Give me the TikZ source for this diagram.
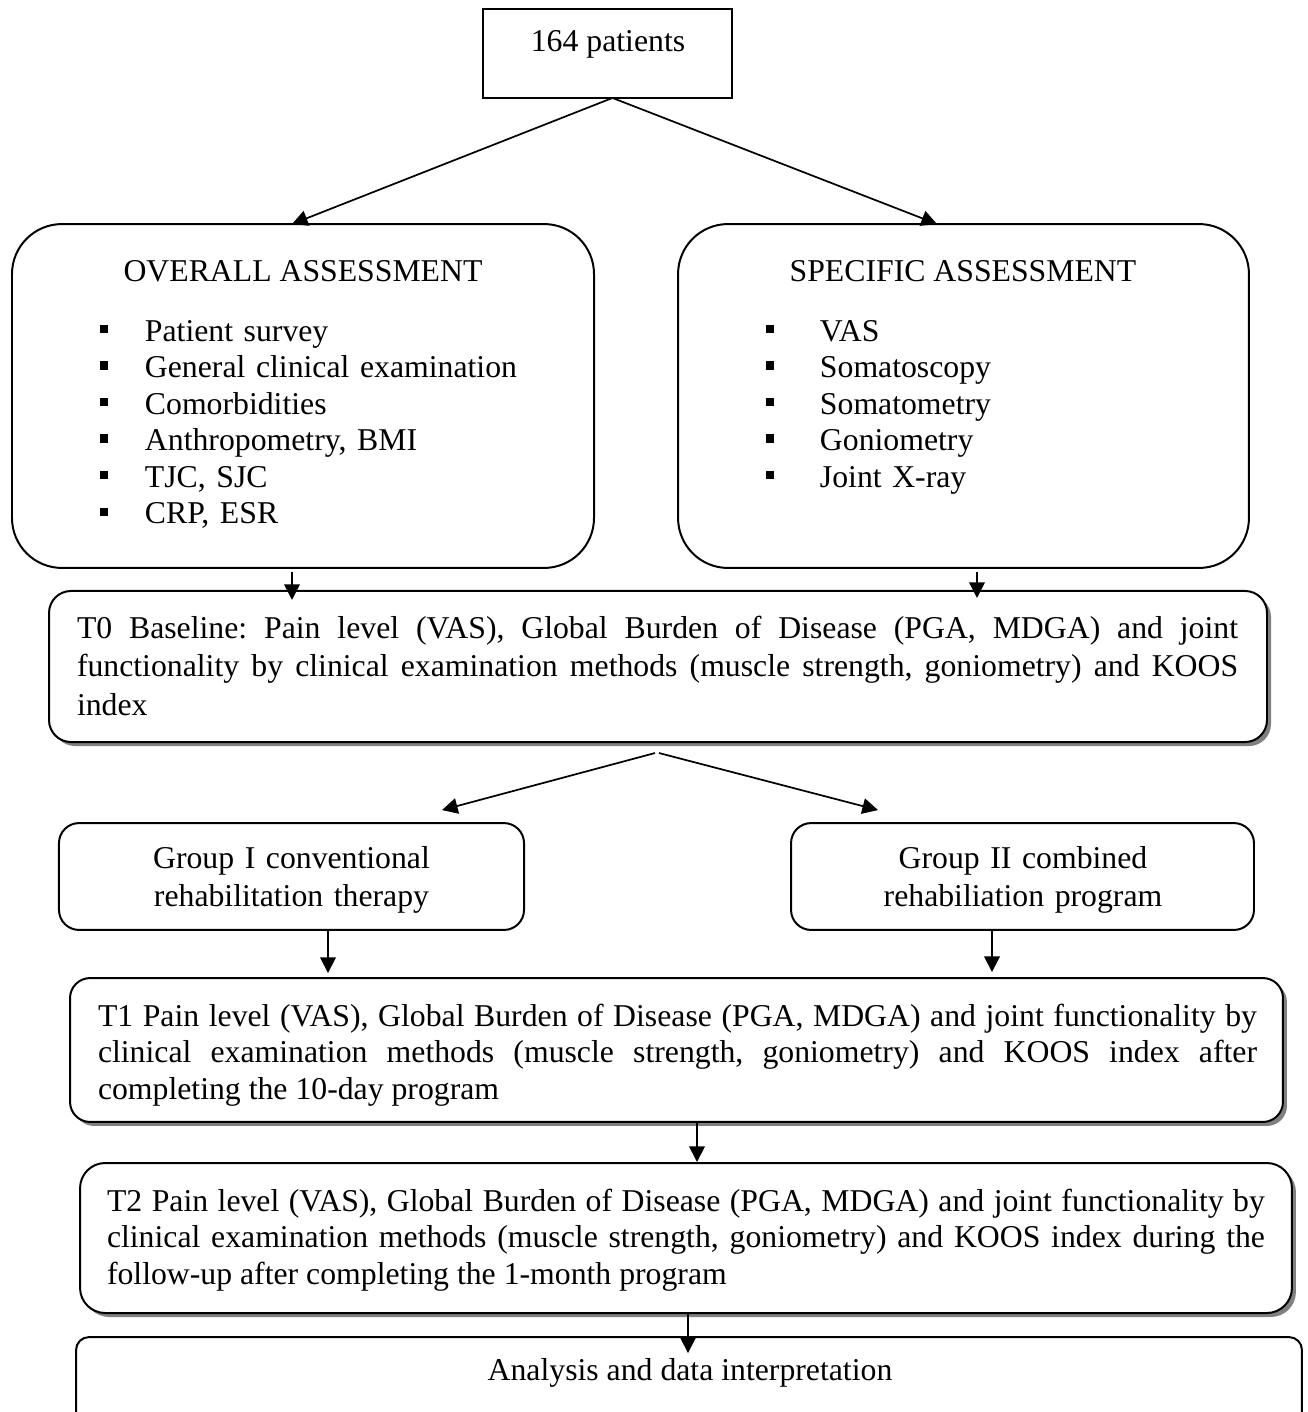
\documentclass[tikz,border=0pt]{standalone}
\usepackage{fontspec}
\setmainfont{Liberation Serif}
\usetikzlibrary{arrows.meta,calc,shadows}
\newdimen\pxu \pxu=0.378pt
\newcommand\sqb{\rule[3pt]{3.2pt}{3.2pt}}
\frenchspacing
\tikzset{
  boxbase/.style={draw, line width=0.75pt, fill=white, inner sep=0pt, outer sep=0pt},
  shadowed/.style={drop shadow={shadow xshift=4*\pxu, shadow yshift=-4*\pxu, fill=black!50, opacity=1}},
  txt/.style={inner sep=0pt, outer sep=0pt, font=\fontsize{12}{13.83}\selectfont,
    execute at begin node={\frenchspacing\tolerance=9999\hyphenpenalty=10000}},
  arr/.style={line width=0.65pt, -{Triangle[length=5.9pt, width=5.9pt]}}
}
\begin{document}
\begin{tikzpicture}[x=0.378pt,y=-0.378pt]
\clip (0,0) rectangle (1308,1412);
\fill[white] (0,0) rectangle (1308,1412);

% top box
\node[boxbase, minimum width=94.1pt, minimum height=33.6pt] (pat) at (607.5,53.5) {};
\node[txt, anchor=base] (pattxt) at (608,51) {164 patients};

% overall assessment
\node[boxbase, rounded corners=18.9pt, minimum width=220.0pt, minimum height=130.0pt] (ov) at (303,396) {};
\node[txt, anchor=base] (ovt) at (303,281) {OVERALL ASSESSMENT};
\node[txt, anchor=base west, text width=174pt, align=left] (ovl) at (100,341)
  {\makebox[17pt][l]{\sqb}Patient survey\\
   \makebox[17pt][l]{\sqb}General clinical examination\\
   \makebox[17pt][l]{\sqb}Comorbidities\\
   \makebox[17pt][l]{\sqb}Anthropometry, BMI\\
   \makebox[17pt][l]{\sqb}TJC, SJC\\
   \makebox[17pt][l]{\sqb}CRP, ESR};

% specific assessment
\node[boxbase, rounded corners=18.9pt, minimum width=215.8pt, minimum height=130.0pt] (sp) at (963.5,396) {};
\node[txt, anchor=base] (spt) at (963,281) {SPECIFIC ASSESSMENT};
\node[txt, anchor=base west, text width=170pt, align=left] (spl) at (766,341)
  {\makebox[20.4pt][l]{\sqb}VAS\\
   \makebox[20.4pt][l]{\sqb}Somatoscopy\\
   \makebox[20.4pt][l]{\sqb}Somatometry\\
   \makebox[20.4pt][l]{\sqb}Goniometry\\
   \makebox[20.4pt][l]{\sqb}Joint X-ray};

% T0
\node[boxbase, shadowed, rounded corners=8.3pt, minimum width=460.4pt, minimum height=57.1pt] (t0) at (658,666.5) {};
\node[txt, anchor=base west, text width=438.9pt, align=justify, font=\fontsize{12}{14.6}\selectfont] (t0txt) at (77,638)
  {T0 Baseline: Pain level (VAS), Global Burden of Disease (PGA, MDGA) and joint\linebreak
   functionality by clinical examination methods (muscle strength, goniometry) and KOOS\linebreak
   index};

% groups
\node[boxbase, rounded corners=7.6pt, minimum width=175.8pt, minimum height=40.4pt] (g1) at (291.5,876.5) {};
\node[txt, anchor=base, text width=166pt, align=center, font=\fontsize{12}{14.6}\selectfont] (g1txt) at (291.5,868)
  {Group I conventional\\ rehabilitation therapy};
\node[boxbase, rounded corners=7.6pt, minimum width=175.0pt, minimum height=40.4pt] (g2) at (1022.5,876.5) {};
\node[txt, anchor=base, text width=166pt, align=center, font=\fontsize{12}{14.6}\selectfont] (g2txt) at (1023,868)
  {Group II combined\\ rehabiliation program};

% T1
\node[boxbase, shadowed, rounded corners=7.6pt, minimum width=458.5pt, minimum height=54.4pt] (t1) at (676.5,1050) {};
\node[txt, anchor=base west, text width=438.1pt, align=justify, font=\fontsize{12}{13.8}\selectfont] (t1txt) at (98,1026)
  {T1 Pain level (VAS), Global Burden of Disease (PGA, MDGA) and joint functionality by\linebreak
   clinical examination methods (muscle strength, goniometry) and KOOS index after\linebreak
   completing the 10-day program};

% T2
\node[boxbase, shadowed, rounded corners=9.5pt, minimum width=458.1pt, minimum height=56.7pt] (t2) at (686,1238) {};
\node[txt, anchor=base west, text width=437.7pt, align=justify, font=\fontsize{12}{13.8}\selectfont] (t2txt) at (107,1211)
  {T2 Pain level (VAS), Global Burden of Disease (PGA, MDGA) and joint functionality by\linebreak
   clinical examination methods (muscle strength, goniometry) and KOOS index during the\linebreak
   follow-up after completing the 1-month program};

% analysis
\node[boxbase, rounded corners=4.9pt, minimum width=463.4pt, minimum height=38.9pt] (an) at (689,1388.5) {};
\node[txt, anchor=base] (antxt) at (690,1380) {Analysis and data interpretation};

% connectors
\coordinate (patout) at ($(pat.south)+(5,0)$);
\draw[arr] (patout) -- ($(ov.north)+(-11,0)$);
\draw[arr] (patout) -- ($(sp.north)+(-26.5,0)$);

\coordinate (ovo) at ($(ov.south)+(-11,4)$);
\draw[arr] (ovo) -- ($(ovo |- t0.north)+(0,9)$);
\coordinate (spo) at ($(sp.south)+(13.5,4)$);
\draw[arr] (spo) -- ($(spo |- t0.north)+(0,7)$);

\coordinate (t0a) at ($(t0.south)+(-3,11)$);
\coordinate (t0b) at ($(t0.south)+(1,11)$);
\coordinate (g1in) at ($(g1.north)+(150.5,-13)$);
\coordinate (g2in) at ($(g2.north)+(-144.5,-13)$);
\draw[arr] (t0a) -- (g1in);
\draw[arr] (t0b) -- (g2in);

\coordinate (g1o) at ($(g1.south)+(36.5,0)$);
\draw[arr] (g1o) -- ($(g1o |- t1.north)+(0,-5)$);
\coordinate (g2o) at ($(g2.south)+(-30.5,0)$);
\draw[arr] (g2o) -- ($(g2o |- t1.north)+(0,-6)$);
\coordinate (t1o) at ($(t1.south)+(20.5,0)$);
\draw[arr] (t1o) -- ($(t1o |- t2.north)+(0,-1)$);
\coordinate (t2o) at ($(t2.south)+(2,0)$);
\draw[arr] (t2o) -- ($(t2o |- an.north)+(0,16)$);
\end{tikzpicture}
\end{document}
